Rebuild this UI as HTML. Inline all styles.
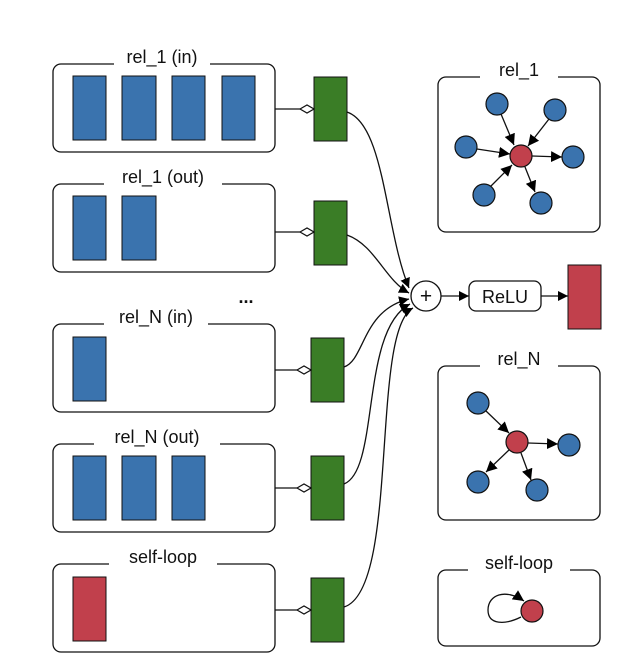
<!DOCTYPE html>
<html><head><meta charset="utf-8"><style>html,body{margin:0;padding:0;background:#fff}svg{display:block}</style></head>
<body>
<svg width="640" height="670" viewBox="0 0 640 670" xmlns="http://www.w3.org/2000/svg" font-family="'Liberation Sans',sans-serif">
<defs>
<marker id="a" viewBox="0 0 10 10" refX="10" refY="5" markerWidth="10" markerHeight="10" markerUnits="userSpaceOnUse" orient="auto"><path d="M0,0L10,5L0,10z" fill="#000"/></marker>
<marker id="a2" viewBox="0 0 10 10" refX="10" refY="5" markerWidth="11" markerHeight="11" markerUnits="userSpaceOnUse" orient="auto"><path d="M0,0L10,5L0,10z" fill="#000"/></marker>
</defs>
<g stroke="#111" stroke-width="1.3" fill="none">
<rect x="53" y="64" width="222" height="88" rx="8" fill="#fff"/>
<rect x="53" y="184" width="222" height="88" rx="8" fill="#fff"/>
<rect x="53" y="324" width="222" height="88" rx="8" fill="#fff"/>
<rect x="53" y="444" width="222" height="88" rx="8" fill="#fff"/>
<rect x="53" y="564" width="222" height="88" rx="8" fill="#fff"/>
<rect x="438" y="77" width="162" height="155" rx="8" fill="#fff"/>
<rect x="438" y="366" width="162" height="154" rx="8" fill="#fff"/>
<rect x="438" y="570" width="162" height="76" rx="8" fill="#fff"/>
</g>
<g fill="#fff">
<rect x="114" y="54" width="96" height="20"/>
<rect x="104" y="174" width="118" height="20"/>
<rect x="104" y="314" width="104" height="20"/>
<rect x="94" y="434" width="126" height="20"/>
<rect x="109" y="554" width="108" height="20"/>
<rect x="480" y="67" width="78" height="20"/>
<rect x="480" y="356" width="78" height="20"/>
<rect x="468" y="560" width="102" height="20"/>
</g>
<g font-size="18" fill="#111" text-anchor="middle">
<text x="162" y="63">rel_1 (in)</text>
<text x="163" y="183">rel_1 (out)</text>
<text x="156" y="323">rel_N (in)</text>
<text x="157" y="443">rel_N (out)</text>
<text x="163" y="563">self-loop</text>
<text x="519" y="76">rel_1</text>
<text x="519" y="365">rel_N</text>
<text x="519" y="569">self-loop</text>
<text x="246" y="303" font-weight="bold" font-size="18">...</text>
</g>
<g fill="#3a73ae" stroke="#111" stroke-width="1">
<rect x="73" y="76" width="33" height="64"/><rect x="122" y="76" width="34" height="64"/><rect x="172" y="76" width="33" height="64"/><rect x="222" y="76" width="33" height="64"/>
<rect x="73" y="196" width="33" height="64"/><rect x="122" y="196" width="34" height="64"/>
<rect x="73" y="337" width="33" height="64"/>
<rect x="73" y="456" width="33" height="64"/><rect x="122" y="456" width="34" height="64"/><rect x="172" y="456" width="33" height="64"/>
</g>
<rect x="73" y="577" width="33" height="64" fill="#c1404c" stroke="#111" stroke-width="1"/>
<g fill="#3a7d26" stroke="#111" stroke-width="1">
<rect x="314" y="77" width="33" height="64"/>
<rect x="314" y="201" width="33" height="64"/>
<rect x="311" y="338" width="33" height="64"/>
<rect x="311" y="456" width="33" height="64"/>
<rect x="311" y="578" width="33" height="64"/>
</g>
<g stroke="#111" stroke-width="1.2" fill="#fff">
<path d="M275,109H300M275,232H300M275,370H297M275,488H297M275,610H297" fill="none"/>
<path d="M300,109l7,-4l7,4l-7,4z"/>
<path d="M300,232l7,-4l7,4l-7,4z"/>
<path d="M297,370l7,-4l7,4l-7,4z"/>
<path d="M297,488l7,-4l7,4l-7,4z"/>
<path d="M297,610l7,-4l7,4l-7,4z"/>
</g>
<g stroke="#111" stroke-width="1.3" fill="none" marker-end="url(#a)">
<path d="M347,112C385,125 385,230 409,288"/>
<path d="M347,235C375,245 385,280 409,293"/>
<path d="M344,367C365,360 362,310 409,299"/>
<path d="M344,484C380,470 360,330 410,304"/>
<path d="M344,607C400,590 370,330 413,308"/>
</g>
<circle cx="426" cy="296" r="15" fill="#fff" stroke="#111" stroke-width="1.3"/>
<text x="426" y="303" font-size="21" text-anchor="middle" fill="#111">+</text>
<g stroke="#111" stroke-width="1.3" marker-end="url(#a)"><path d="M441,296H469"/><path d="M541,296H568"/></g>
<rect x="469" y="281" width="72" height="30" rx="7" fill="#fff" stroke="#111" stroke-width="1.3"/>
<text x="505" y="303" font-size="18" text-anchor="middle" fill="#111">ReLU</text>
<rect x="568" y="265" width="33" height="64" fill="#c1404c" stroke="#111" stroke-width="1"/>
<g stroke="#111" stroke-width="1.3" marker-end="url(#a2)">
<path d="M501,114L514,145"/><path d="M549,119L528,146"/><path d="M477,149L510,154"/>
<path d="M532,156L562,157"/><path d="M491,186L512,165"/><path d="M525,167L535,192"/>
</g>
<g stroke="#111" stroke-width="1.2" fill="#3a73ae">
<circle cx="497" cy="104" r="11"/><circle cx="555" cy="110" r="11"/><circle cx="466" cy="147" r="11"/>
<circle cx="573" cy="157" r="11"/><circle cx="484" cy="195" r="11"/><circle cx="541" cy="203" r="11"/>
</g>
<circle cx="521" cy="156" r="11" fill="#c1404c" stroke="#111" stroke-width="1.2"/>
<g stroke="#111" stroke-width="1.3" marker-end="url(#a2)">
<path d="M486,411L509,433"/><path d="M528,443L558,444"/><path d="M509,450L486,472"/><path d="M521,453L531,480"/>
</g>
<g stroke="#111" stroke-width="1.2" fill="#3a73ae">
<circle cx="478" cy="403" r="11"/><circle cx="569" cy="445" r="11"/><circle cx="478" cy="482" r="11"/><circle cx="537" cy="490" r="11"/>
</g>
<circle cx="517" cy="442" r="11" fill="#c1404c" stroke="#111" stroke-width="1.2"/>
<path d="M521,617C505,625 488,625 488,610C488,595 505,588 524,601" stroke="#111" stroke-width="1.3" fill="none" marker-end="url(#a2)"/>
<circle cx="532" cy="611" r="11" fill="#c1404c" stroke="#111" stroke-width="1.2"/>
</svg>
</body></html>
